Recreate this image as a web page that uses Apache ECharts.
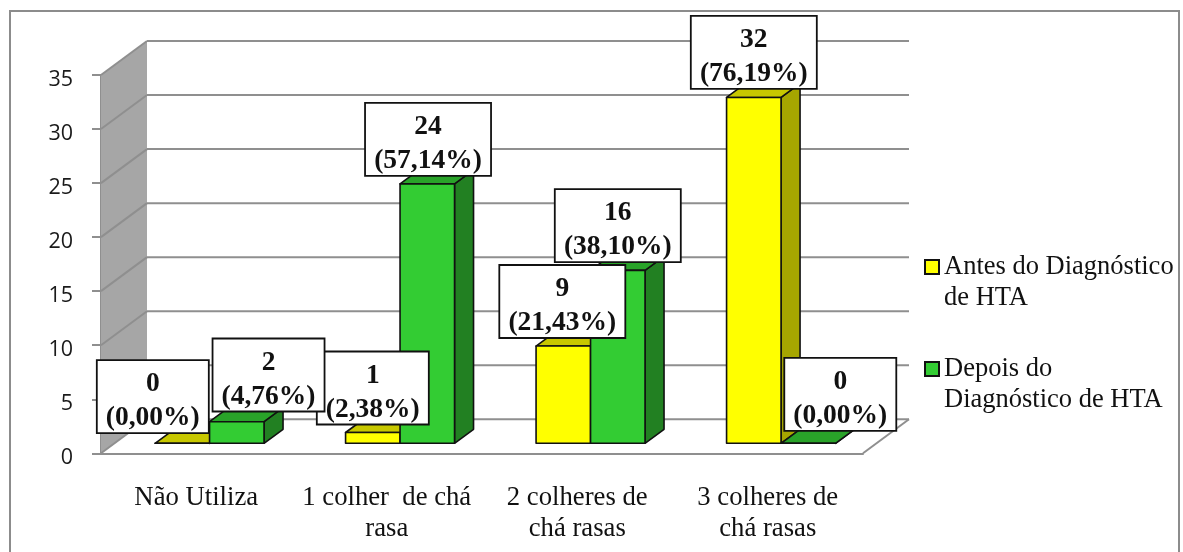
<!DOCTYPE html>
<html>
<head>
<meta charset="utf-8">
<title>Colheres de chá</title>
<style>
  html, body { margin: 0; padding: 0; background: #fff; }
  #chart { width: 1183px; height: 552px; }
</style>
<script src="https://cdn.jsdelivr.net/npm/echarts@6/dist/echarts.min.js"></script>
</head>
<body>
<div id="chart"></div>
<script>
var categories = ['Não Utiliza', '1 colher  de chá\nrasa', '2 colheres de\nchá rasas', '3 colheres de\nchá rasas'];
var yTicks = [0, 5, 10, 15, 20, 25, 30, 35];
var antes = [0, 1, 9, 32];
var depois = [2, 24, 16, 0];
var antesPct = ['0,00%', '2,38%', '21,43%', '76,19%'];
var depoisPct = ['4,76%', '57,14%', '38,10%', '0,00%'];
var antesName = 'Antes do Diagnóstico\nde HTA';
var depoisName = 'Depois do\nDiagnóstico de HTA';

// 3d look, in pixels
var WALL_DX = 46, WALL_DY = -34;
var BAR_X = 13.3, BAR_Y = -10;   // bars stand a bit behind the front plane
var SIDE_DX = 19, SIDE_DY = -14;
var BAR_RATIO = 0.286;           // bar width / category width
var SERIF = '"Liberation Serif", serif';
var GRID_COLOR = '#8f8f8f';

// where each value box sits, relative to the top middle of its bar
var antesBox = [[-29.5, -46.6], [0, -44.5], [-1, -44.5], [0, -45]];
var depoisBox = [[31.75, -46.7], [0.75, -44.6], [0, -44.8], [32, -49]];

function poly(points, fill) {
  return {
    type: 'polygon',
    shape: { points: points },
    style: { fill: fill, stroke: '#111', lineWidth: 1.6, lineJoin: 'round' }
  };
}

function line(x1, y1, x2, y2) {
  return {
    type: 'line',
    shape: { x1: x1, y1: y1, x2: x2, y2: y2 },
    style: { stroke: GRID_COLOR, lineWidth: 2 }
  };
}

function renderWall(params, api) {
  var rect = params.coordSys;
  var y = api.coord([0, api.value(0)])[1];
  var left = rect.x, right = rect.x + rect.width;
  var children = [];
  if (params.dataIndex === 0) {
    var bottom = rect.y + rect.height, top = rect.y;
    children.push({
      type: 'polygon',
      shape: { points: [[left, bottom], [left, top], [left + WALL_DX, top + WALL_DY], [left + WALL_DX, bottom + WALL_DY]] },
      style: { fill: '#a6a6a6' }
    });
    children.push(line(right, bottom, right + WALL_DX, bottom + WALL_DY));
  }
  children.push(line(left, y, left + WALL_DX, y + WALL_DY));
  children.push(line(left + WALL_DX, y + WALL_DY, right + WALL_DX, y + WALL_DY));
  return { type: 'group', children: children };
}

function barRender(side, front, sideColor, topColor) {
  return function (params, api) {
    var top = api.coord([api.value(0), api.value(1)]);
    var base = api.coord([api.value(0), 0]);
    var w = api.size([1, 0])[0] * BAR_RATIO;
    var x0 = top[0] + BAR_X + (side < 0 ? -w : 0);
    var x1 = x0 + w;
    var y0 = base[1] + BAR_Y;
    var y1 = top[1] + BAR_Y;
    return {
      type: 'group',
      children: [
        poly([[x1, y0], [x1 + SIDE_DX, y0 + SIDE_DY], [x1 + SIDE_DX, y1 + SIDE_DY], [x1, y1]], sideColor),
        poly([[x0, y1], [x1, y1], [x1 + SIDE_DX, y1 + SIDE_DY], [x0 + SIDE_DX, y1 + SIDE_DY]], topColor),
        poly([[x0, y0], [x1, y0], [x1, y1], [x0, y1]], front)
      ]
    };
  };
}

function boxRender(params, api) {
  var cat = api.value(0);
  var isAntes = api.value(2) === 0;
  var top = api.coord([cat, api.value(1)]);
  var w = api.size([1, 0])[0] * BAR_RATIO;
  var off = (isAntes ? antesBox : depoisBox)[cat];
  var cx = top[0] + BAR_X + (isAntes ? -w / 2 : w / 2) + off[0];
  var cy = top[1] + BAR_Y + off[1];
  var pct = (isAntes ? antesPct : depoisPct)[cat];
  var boxW = pct.length > 5 ? 126 : 112;
  var z = 100 - params.dataIndex * 2;
  return {
    type: 'group',
    children: [
      {
        type: 'rect',
        z2: z,
        shape: { x: cx - boxW / 2, y: cy - 36.5, width: boxW, height: 73 },
        style: { fill: '#fff', stroke: '#111', lineWidth: 1.8 }
      },
      {
        type: 'text',
        z2: z + 1,
        style: {
          x: cx,
          y: cy + 4.5,
          text: api.value(1) + '\n(' + pct + ')',
          font: 'bold 27.5px ' + SERIF,
          lineHeight: 34,
          fill: '#111',
          align: 'center',
          verticalAlign: 'middle'
        }
      }
    ]
  };
}

var boxData = [];
categories.forEach(function (c, i) {
  boxData.push([i, antes[i], 0]);
  boxData.push([i, depois[i], 1]);
});

var chart = echarts.init(document.getElementById('chart'), null, { renderer: 'canvas' });
chart.setOption({
  animation: false,
  backgroundColor: '#fff',
  graphic: [{
    type: 'polyline',
    shape: { points: [[10, 552], [10, 11], [1179, 11], [1179, 552]] },
    style: { fill: 'none', stroke: '#8c8c8c', lineWidth: 2 }
  }],
  grid: { left: 101, right: 320, top: 75, bottom: 98.7 },
  legend: {
    orient: 'vertical',
    left: 919,
    top: 215.5,
    itemWidth: 14,
    itemHeight: 14,
    itemGap: 9,
    selectedMode: false,
    // empty first line keeps the marker level with the first text line
    formatter: function (name) { return '\n' + name; },
    textStyle: { fontFamily: SERIF, fontSize: 26.5, lineHeight: 31, color: '#111' },
    data: [
      { name: antesName, icon: 'rect', itemStyle: { color: '#ffff00', borderColor: '#111', borderWidth: 2 } },
      { name: depoisName, icon: 'rect', itemStyle: { color: '#33cc33', borderColor: '#111', borderWidth: 2 } }
    ]
  },
  xAxis: {
    type: 'category',
    data: categories,
    axisLine: { lineStyle: { color: GRID_COLOR, width: 2 } },
    axisTick: { length: 9, lineStyle: { color: GRID_COLOR, width: 2 } },
    axisLabel: { fontFamily: SERIF, fontSize: 26.7, lineHeight: 31, color: '#111', margin: 29, interval: 0 }
  },
  yAxis: {
    type: 'value',
    min: 0,
    max: 35,
    interval: 5,
    splitLine: { show: false },
    axisLine: { show: true, lineStyle: { color: GRID_COLOR, width: 2 } },
    axisTick: { show: true, length: 9, lineStyle: { color: GRID_COLOR, width: 2 } },
    // top + short line box pushes the digits down a little from the tick
    axisLabel: {
      fontFamily: '"Open Sans"', fontSize: 21.5, color: '#1a1a1a', margin: 28,
      verticalAlign: 'top', lineHeight: 10
    }
  },
  series: [
    {
      type: 'custom',
      z: 1,
      silent: true,
      renderItem: renderWall,
      encode: { y: 0 },
      data: yTicks.map(function (t) { return [t]; })
    },
    {
      name: antesName,
      type: 'custom',
      z: 2,
      renderItem: barRender(-1, '#ffff00', '#a6a600', '#c8c800'),
      encode: { x: 0, y: 1 },
      data: antes.map(function (v, i) { return [i, v]; })
    },
    {
      name: depoisName,
      type: 'custom',
      z: 3,
      renderItem: barRender(1, '#33cc33', '#228022', '#29a329'),
      encode: { x: 0, y: 1 },
      data: depois.map(function (v, i) { return [i, v]; })
    },
    {
      type: 'custom',
      z: 4,
      silent: true,
      renderItem: boxRender,
      encode: { x: 0, y: 1 },
      data: boxData
    }
  ]
});
</script>
</body>
</html>
